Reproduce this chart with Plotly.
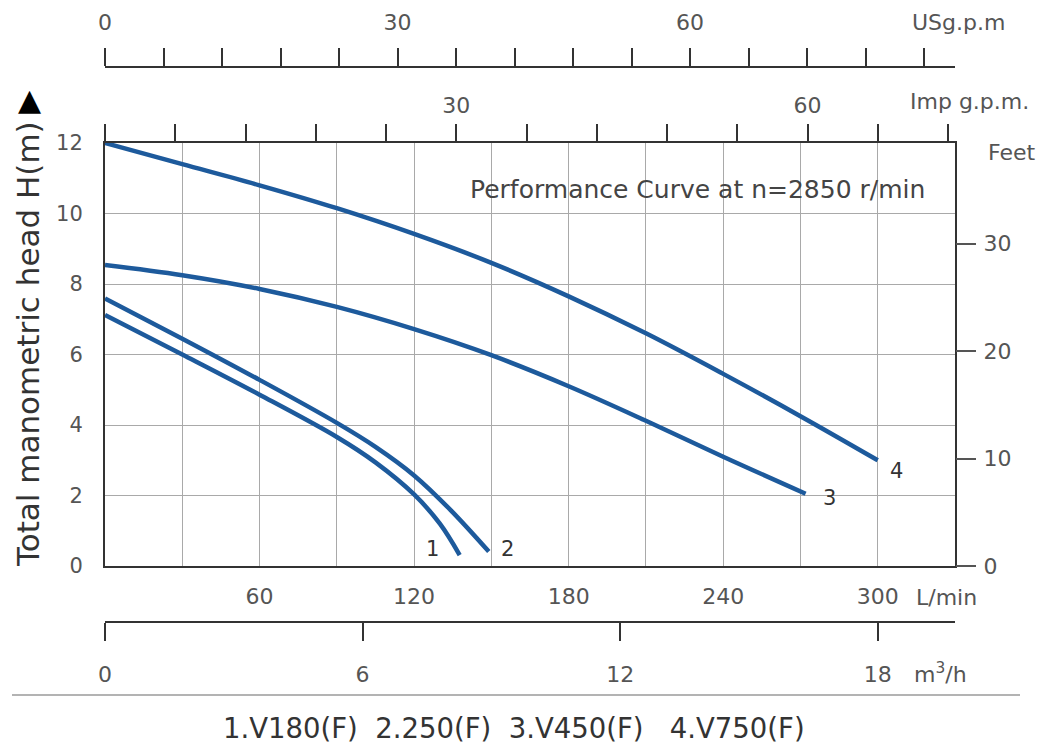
import plotly.graph_objects as go

# ---- data (flow in L/min, head in m) ----
flow_1 = [0, 30, 60, 90, 105, 120, 130, 137.7]
head_1 = [7.12, 6.0, 4.86, 3.66, 2.94, 2.03, 1.2, 0.31]
flow_2 = [0, 30, 60, 90, 105, 120, 134, 149]
head_2 = [7.59, 6.45, 5.28, 4.06, 3.38, 2.57, 1.6, 0.41]
flow_3 = [0, 30, 60, 90, 120, 150, 180, 210, 240, 272]
head_3 = [8.54, 8.25, 7.86, 7.35, 6.72, 5.98, 5.1, 4.12, 3.1, 2.05]
flow_4 = [0, 30, 60, 90, 120, 150, 180, 210, 240, 270, 300]
head_4 = [12.0, 11.4, 10.8, 10.15, 9.42, 8.6, 7.65, 6.6, 5.45, 4.25, 3.0]
curve_labels = ["1", "2", "3", "4"]
legend_text = "1.V180(F)  2.250(F)  3.V450(F)   4.V750(F)"

lmin_ticks = list(range(0, 331, 30))
lmin_labels = ["", "", "60", "", "120", "", "180", "", "240", "", "300", ""]
head_ticks = [0, 2, 4, 6, 8, 10, 12]
feet_ticks = [0, 10, 20, 30]
imp_ticks = list(range(0, 73, 6))
imp_labels = ["30" if v == 30 else "60" if v == 60 else "" for v in imp_ticks]
us_ticks = list(range(0, 85, 6))
us_labels = [str(v) if v in (0, 30, 60) else "" for v in us_ticks]
m3h_ticks = [0, 6, 12, 18]

X_MAX = 330
Y_MAX = 12
W, H = 1046, 749

LINE = "#1d5a9c"
TXT = "#555555"
FONT = "DejaVu Sans"
TS = 22  # tick label size

fig = go.Figure()
for fx, hy in [(flow_1, head_1), (flow_2, head_2), (flow_3, head_3), (flow_4, head_4)]:
    fig.add_trace(go.Scatter(x=fx, y=hy, mode="lines",
                             line=dict(color=LINE, width=4.5, shape="spline", smoothing=1.0),
                             showlegend=False, hoverinfo="skip"))

# empty traces so that the secondary unit axes are created
for xa, ya in [("x2", "y"), ("x3", "y"), ("x4", "y"), ("x", "y2")]:
    fig.add_trace(go.Scatter(x=[], y=[], xaxis=xa, yaxis=ya, mode="lines",
                             showlegend=False, hoverinfo="skip"))

xd = [105 / W, 955 / W]
yd = [1 - 566 / H, 1 - 143 / H]

fig.update_layout(
    width=W, height=H, autosize=False, margin=dict(l=0, r=0, t=0, b=0, pad=0, autoexpand=False),
    paper_bgcolor="white", plot_bgcolor="white",
    font=dict(family=FONT, color=TXT, size=TS),
    showlegend=False,
    xaxis=dict(domain=xd, range=[0, X_MAX], tickvals=lmin_ticks, ticktext=lmin_labels, automargin=False,
               showgrid=True, gridcolor="#a9a9a9", gridwidth=1, zeroline=False,
               showline=True, mirror=True, linecolor="#333333", linewidth=2,
               ticks="", ticklabelstandoff=10, tickfont=dict(size=TS, color=TXT)),
    yaxis=dict(domain=yd, range=[0, Y_MAX], tickvals=head_ticks, automargin=False,
               showgrid=True, gridcolor="#a9a9a9", gridwidth=1, zeroline=False,
               showline=True, mirror=True, linecolor="#333333", linewidth=2,
               ticks="", ticklabelstandoff=16, tickfont=dict(size=21, color=TXT)),
    yaxis2=dict(overlaying="y", side="right", anchor="x", range=[0, Y_MAX * 3.28084], tickvals=feet_ticks,
                automargin=False, showgrid=False, zeroline=False, showline=False,
                ticks="outside", ticklen=20, tickwidth=1.5, tickcolor="#555555",
                ticklabelstandoff=3, tickfont=dict(size=TS, color=TXT)),
    xaxis2=dict(overlaying="x", side="top", anchor="y", range=[0, X_MAX / 4.54609], automargin=False,
                tickvals=imp_ticks, ticktext=imp_labels, showgrid=False, zeroline=False, showline=False,
                ticks="outside", ticklen=18, tickwidth=1.5, tickcolor="#333333",
                ticklabelstandoff=2, tickfont=dict(size=TS, color=TXT)),
    xaxis3=dict(overlaying="x", side="top", anchor="free", position=1 - 67 / H, range=[0, X_MAX / 3.78541],
                automargin=False, tickvals=us_ticks, ticktext=us_labels, showgrid=False, zeroline=False,
                showline=True, linecolor="#333333", linewidth=2,
                ticks="outside", ticklen=18, tickwidth=1.5, tickcolor="#333333",
                ticklabelstandoff=9, tickfont=dict(size=TS, color=TXT)),
    xaxis4=dict(overlaying="x", side="bottom", anchor="free", position=1 - 622 / H, range=[0, X_MAX * 0.06],
                automargin=False, tickvals=m3h_ticks, showgrid=False, zeroline=False,
                showline=True, linecolor="#333333", linewidth=2,
                ticks="outside", ticklen=18, tickwidth=1.5, tickcolor="#333333",
                ticklabelstandoff=15, tickfont=dict(size=TS, color=TXT)),
)

def px(x, y):
    return dict(xref="paper", yref="paper", x=x / W, y=1 - y / H)

ann = []
def text(t, x, y, size=TS, color=TXT, xanchor="center", **kw):
    d = px(x, y)
    d.update(text=t, showarrow=False, xanchor=xanchor, yanchor="middle",
             font=dict(family=FONT, size=size, color=color), **kw)
    ann.append(d)

text("USg.p.m", 958, 22)
text("Imp g.p.m.", 969, 102)
text("Feet", 1012, 152)
text("L/min", 946, 597)
text("m<sup>3</sup>/h", 940, 673)
text("Performance Curve at n=2850 r/min", 697, 190, size=25, color="#444444")
text(legend_text, 514, 728, size=27.5, color="#333333")
text("Total manometric head H(m)", 28, 344, size=31, color="#333333", textangle=-90)
text("▲", 29, 99, size=30, color="#000000")

# curve end labels
ends = [(flow_1, head_1, -27, 6), (flow_2, head_2, 19, 3), (flow_3, head_3, 24, -4), (flow_4, head_4, 19, -11)]
for lab, (fx, hy, dx, dy) in zip(curve_labels, ends):
    ann.append(dict(x=fx[-1], y=hy[-1], xref="x", yref="y", text=lab, showarrow=False,
                    xshift=dx, yshift=dy, font=dict(family=FONT, size=21, color="#333333")))

fig.update_layout(annotations=ann)
fig.add_shape(type="line", xref="paper", yref="paper", x0=12 / W, x1=1020 / W, y0=1 - 695 / H, y1=1 - 695 / H,
              line=dict(color="#9a9a9a", width=1.5))

fig.write_html("out.html", config={"displayModeBar": False},
               post_script="document.body.style.margin='0';")
